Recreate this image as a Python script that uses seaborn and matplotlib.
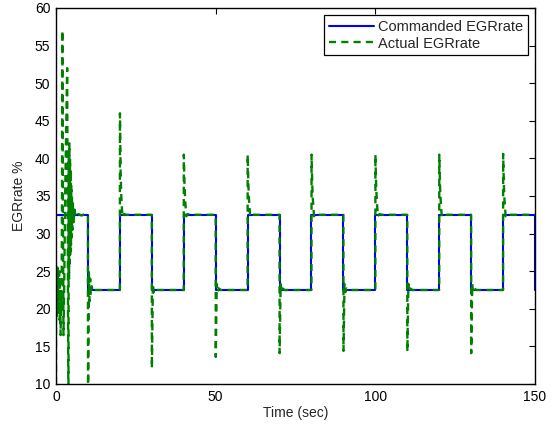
import matplotlib
matplotlib.use("Agg")
import matplotlib.pyplot as plt
import seaborn as sns
import pandas as pd

sns.set_style("white")
plt.rcParams["font.family"] = ["Liberation Sans", "DejaVu Sans"]

# Commanded EGR rate: step setpoint (held until the next time stamp)
cmd_time = [0, 10, 20, 30, 40, 50, 60, 70, 80, 90, 100, 110, 120, 130, 140, 150]
cmd_value = [32.5, 22.5, 32.5, 22.5, 32.5, 22.5, 32.5, 22.5,
             32.5, 22.5, 32.5, 22.5, 32.5, 22.5, 32.5, 22.5]

# Measured EGR rate, start-up transient (0 - 10 s)
startup_time = [0.0, 0.02, 0.12, 0.22, 0.32, 0.42, 0.52, 0.62, 0.72, 0.82, 0.95,
                1.05, 1.15, 1.3, 1.45, 1.6, 1.75, 1.9, 2.0, 2.15, 2.35,
                2.6, 2.9, 3.2, 3.5, 3.6, 3.75, 3.9, 4.0, 4.1, 4.2, 4.3,
                4.4, 4.5, 4.6, 4.7, 4.8, 4.9, 5.0, 5.15, 5.3, 5.5, 5.8,
                6.2, 7.0, 8.0, 9.0, 9.9]
startup_value = [10.0, 22.0, 19.0, 24.5, 19.5, 25.5, 20.5, 25.0, 19.0, 24.0, 21.0,
                 25.0, 18.5, 23.5, 16.5, 22.0, 20.0, 36.0, 57.0, 36.0, 16.5,
                 24.0, 36.0, 44.0, 52.0, 40.0, 20.0, 5.0, 41.0, 24.0, 42.0, 26.0,
                 40.0, 27.0, 38.5, 28.5, 36.5, 29.5, 35.0, 30.5, 34.0, 31.5, 33.2,
                 32.2, 32.6, 32.4, 32.6, 32.5]

# Measured EGR rate around each setpoint change: time, value
resp_time = [
    10.0, 10.03, 10.3, 10.5, 10.7, 10.9, 11.2, 11.6, 12.2,
    20.0, 20.03, 20.25, 20.45, 20.8, 21.3, 22.0,
    30.0, 30.03, 30.35, 30.6, 31.0, 31.6,
    40.0, 40.03, 40.25, 40.45, 40.8, 41.3, 42.0,
    50.0, 50.03, 50.35, 50.6, 51.0, 51.6,
    60.0, 60.03, 60.25, 60.45, 60.8, 61.3, 62.0,
    70.0, 70.03, 70.35, 70.6, 71.0, 71.6,
    80.0, 80.03, 80.25, 80.45, 80.8, 81.3, 82.0,
    90.0, 90.03, 90.35, 90.6, 91.0, 91.6,
    100.0, 100.03, 100.25, 100.45, 100.8, 101.3, 102.0,
    110.0, 110.03, 110.35, 110.6, 111.0, 111.6,
    120.0, 120.03, 120.25, 120.45, 120.8, 121.3, 122.0,
    130.0, 130.03, 130.35, 130.6, 131.0, 131.6,
    140.0, 140.03, 140.25, 140.45, 140.8, 141.3, 142.0,
    150.0,
]
resp_value = [
    32.5, 5.0, 25.0, 21.0, 24.0, 21.8, 23.0, 22.3, 22.5,
    22.5, 46.0, 38.0, 35.0, 32.2, 32.6, 32.5,
    32.5, 12.1, 23.3, 22.2, 22.7, 22.5,
    22.5, 40.5, 36.5, 34.5, 32.3, 32.6, 32.5,
    32.5, 13.6, 23.3, 22.2, 22.7, 22.5,
    22.5, 40.5, 36.5, 34.5, 32.3, 32.6, 32.5,
    32.5, 14.1, 23.3, 22.2, 22.7, 22.5,
    22.5, 40.5, 36.5, 34.5, 32.3, 32.6, 32.5,
    32.5, 14.4, 23.3, 22.2, 22.7, 22.5,
    22.5, 40.5, 36.5, 34.5, 32.3, 32.6, 32.5,
    32.5, 14.3, 23.3, 22.2, 22.7, 22.5,
    22.5, 40.5, 36.5, 34.5, 32.3, 32.6, 32.5,
    32.5, 14.1, 23.3, 22.2, 22.7, 22.5,
    22.5, 40.6, 36.5, 34.5, 32.3, 32.6, 32.5,
    32.5,
]

cmd_df = pd.DataFrame({"t": cmd_time, "v": cmd_value})
act_df = pd.DataFrame({"t": startup_time + resp_time,
                       "v": startup_value + resp_value})

fig = plt.figure(figsize=(5.57, 4.29), dpi=100)
ax = fig.add_axes([0.1005, 0.1049, 0.86, 0.8765])

sns.lineplot(data=cmd_df, x="t", y="v", ax=ax, color="#0000ff", linewidth=1.5,
             drawstyle="steps-post", estimator=None, sort=False,
             label="Commanded EGRrate")
sns.lineplot(data=act_df, x="t", y="v", ax=ax, color="#008000", linewidth=1.7,
             linestyle=(0, (3.0, 2.2)), estimator=None, sort=False,
             label="Actual EGRrate")

ax.set_xlim(0, 150)
ax.set_ylim(10, 60)
ax.set_xticks([0, 50, 100, 150])
ax.set_yticks(range(10, 61, 5))
ax.set_xlabel("Time (sec)", fontsize=10, labelpad=2)
ax.set_ylabel("EGRrate %", fontsize=10, labelpad=6)
ax.tick_params(direction="in", length=4, width=0.8, top=True, right=True,
               labelsize=10, colors="black", pad=4)
for s in ax.spines.values():
    s.set_color("black")
    s.set_linewidth(1.0)

leg = ax.legend(loc="upper right", fontsize=10.5, frameon=True, fancybox=False,
                framealpha=1, edgecolor="black", borderpad=0.3,
                labelspacing=0.2, handlelength=3.1, handletextpad=0.3,
                borderaxespad=0.5)
leg.get_frame().set_linewidth(0.9)

fig.savefig("out.png", dpi=100)
